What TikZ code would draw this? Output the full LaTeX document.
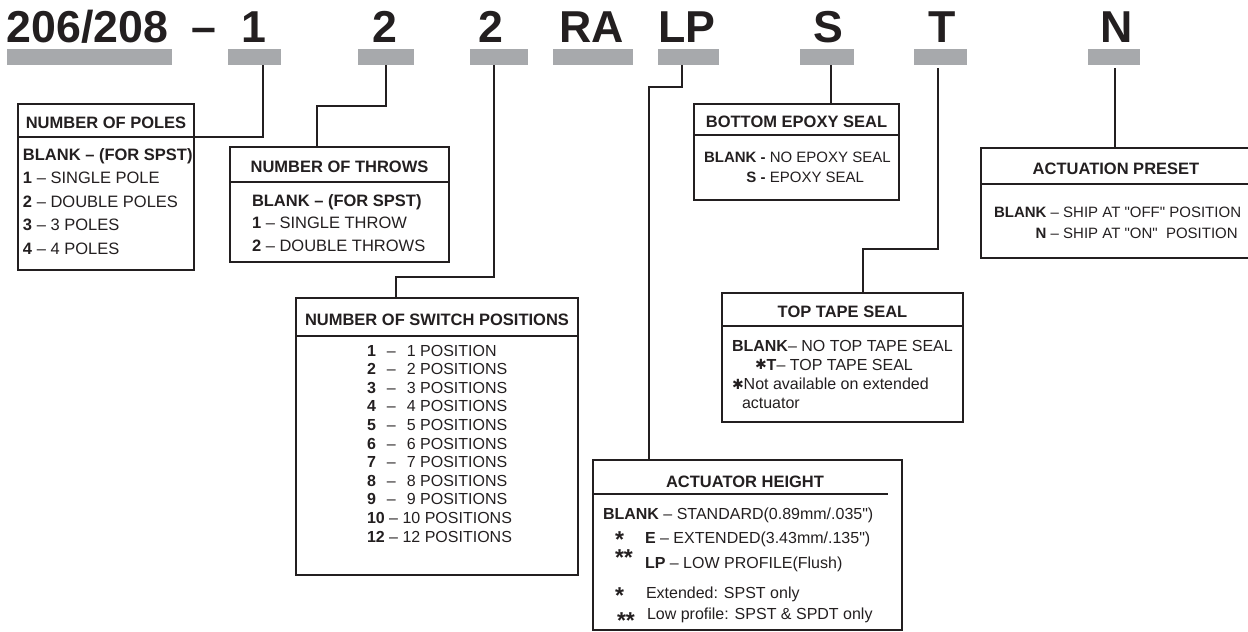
\documentclass[tikz,border=0pt]{standalone}
\usepackage{fontspec}
\setmainfont{Liberation Sans}
\newfontfamily\starfont{DejaVu Sans}
\usepackage{tikz}
\definecolor{barGrey}{HTML}{A7A9AC}
\definecolor{inkBlack}{HTML}{231F20}
\newcommand{\heavystar}{\raisebox{0.5pt}{\starfont\fontsize{14}{14}\selectfont ✱}}
\newcommand{\astmark}[2]{\raisebox{#1}[0pt][0pt]{\fontsize{23}{23}\selectfont\bfseries #2}}

\begin{document}
\begin{tikzpicture}[x=1pt,y=1pt]
              \tikzstyle{every node}+=[inner sep=0pt, outer sep=0pt, text=inkBlack]
              \tikzstyle{code}=[anchor=base, font=\fontsize{44.7}{44.7}\selectfont\bfseries]
              \tikzstyle{bar}=[fill=barGrey, anchor=north west, minimum height=16]
              \tikzstyle{head}=[draw=inkBlack, line width=1.8, anchor=north west, text height=16pt, text depth=0pt, font=\fontsize{16.5}{16.5}\selectfont\bfseries]
              \tikzstyle{frame}=[draw=inkBlack, line width=1.8, anchor=north west]
              \tikzstyle{body}=[anchor=base west]
              \tikzstyle{link}=[draw=inkBlack, line width=1.8]
              \useasboundingbox (0,0) rectangle (1248,-632);
              % part number
              \node[code] (tBase) at (87.5,-42) {206/208};
              \node[code] (tDash) at (203.5,-42) {–};
              \node[code] (tPoles) at (254,-42) {1};
              \node[code] (tThrows) at (385,-42) {2};
              \node[code] (tPos) at (491,-42) {2};
              \node[code] (tRA) at (592,-42) {RA};
              \node[code] (tLP) at (687,-42) {LP};
              \node[code] (tS) at (828,-42) {S};
              \node[code] (tT) at (942,-42) {T};
              \node[code] (tN) at (1117,-42) {N};
              \node[bar, minimum width=165] (bBase) at (7,-49) {};
              \node[bar, minimum width=53] (bPoles) at (228,-49) {};
              \node[bar, minimum width=56] (bThrows) at (358,-49) {};
              \node[bar, minimum width=58] (bPos) at (470,-49) {};
              \node[bar, minimum width=80] (bRA) at (553,-49) {};
              \node[bar, minimum width=61] (bLP) at (658,-49) {};
              \node[bar, minimum width=54] (bS) at (800,-49) {};
              \node[bar, minimum width=53] (bT) at (914,-49) {};
              \node[bar, minimum width=52] (bN) at (1088,-49) {};
              % number of poles
              \node[head, minimum width=176, minimum height=33] (polesH) at (18,-104) {NUMBER OF POLES};
              \node[frame, minimum width=176, minimum height=133] (polesB) at (polesH.south west) {};
              \node[body, font=\fontsize{16.5}{23.5}\selectfont] (polesT) at (23,-160) {\begin{tabular}[t]{@{}l@{}}
                \textbf{BLANK – (FOR SPST)}\\
                \textbf{1} – SINGLE POLE\\
                \textbf{2} – DOUBLE POLES\\
                \textbf{3} – 3 POLES\\
                \textbf{4} – 4 POLES
              \end{tabular}};
              % number of throws
              \node[head, minimum width=219, minimum height=35] (throwsH) at (230,-147) {NUMBER OF THROWS};
              \node[frame, minimum width=219, minimum height=80] (throwsB) at (throwsH.south west) {};
              \node[body, font=\fontsize{16.5}{22.5}\selectfont] (throwsT) at (252,-206) {\begin{tabular}[t]{@{}l@{}}
                \textbf{BLANK – (FOR SPST)}\\
                \textbf{1} – SINGLE THROW\\
                \textbf{2} – DOUBLE THROWS
              \end{tabular}};
              % number of switch positions
              \node[head, minimum width=282, minimum height=38] (switchH) at (296,-298) {NUMBER OF SWITCH POSITIONS};
              \node[frame, minimum width=282, minimum height=239] (switchB) at (switchH.south west) {};
              \node[body, font=\fontsize{16}{18.6}\selectfont] (switchT) at (367,-356) {\begin{tabular}[t]{@{}l@{}}
                \textbf{1}\hspace{11pt}–\hspace{11pt}1 POSITION\\
                \textbf{2}\hspace{11pt}–\hspace{11pt}2 POSITIONS\\
                \textbf{3}\hspace{11pt}–\hspace{11pt}3 POSITIONS\\
                \textbf{4}\hspace{11pt}–\hspace{11pt}4 POSITIONS\\
                \textbf{5}\hspace{11pt}–\hspace{11pt}5 POSITIONS\\
                \textbf{6}\hspace{11pt}–\hspace{11pt}6 POSITIONS\\
                \textbf{7}\hspace{11pt}–\hspace{11pt}7 POSITIONS\\
                \textbf{8}\hspace{11pt}–\hspace{11pt}8 POSITIONS\\
                \textbf{9}\hspace{11pt}–\hspace{11pt}9 POSITIONS\\
                \textbf{10} – 10 POSITIONS\\
                \textbf{12} – 12 POSITIONS
              \end{tabular}};
              % bottom epoxy seal
              \node[head, minimum width=205, minimum height=31] (epoxyH) at (694,-104) {BOTTOM EPOXY SEAL};
              \node[frame, minimum width=205, minimum height=65] (epoxyB) at (epoxyH.south west) {};
              \node[body, font=\fontsize{15}{20}\selectfont] (epoxyT) at (704,-162) {\begin{tabular}[t]{@{}r@{}l@{}}
                \textbf{BLANK -} & \ NO EPOXY SEAL\\
                \textbf{S -} & \ EPOXY SEAL
              \end{tabular}};
              % actuation preset
              \node[head, minimum width=270, minimum height=36] (presetH) at (981,-148) {ACTUATION PRESET};
              \node[frame, minimum width=270, minimum height=74] (presetB) at (presetH.south west) {};
              \node[body, font=\fontsize{15}{21}\selectfont] (presetT) at (994,-217) {\begin{tabular}[t]{@{}r@{}l@{}}
                \textbf{BLANK} & \ – SHIP AT \textquotedbl OFF\textquotedbl\ POSITION\\
                \textbf{N} & \ – SHIP AT \textquotedbl ON\textquotedbl\ \ POSITION
              \end{tabular}};
              % top tape seal
              \node[head, minimum width=241, minimum height=33] (tapeH) at (722,-293) {TOP TAPE SEAL};
              \node[frame, minimum width=241, minimum height=96] (tapeB) at (tapeH.south west) {};
              \node[body, font=\fontsize{16}{19.3}\selectfont] (tapeT) at (732,-351) {\begin{tabular}[t]{@{}l@{}}
                \textbf{BLANK}– NO TOP TAPE SEAL\\
                \hspace{23pt}\heavystar\textbf{T}– TOP TAPE SEAL\\
                \heavystar Not available on extended\\
                \hspace{10pt}actuator
              \end{tabular}};
              % actuator height
              \node[frame, minimum width=309, minimum height=170] (actF) at (593,-460) {};
              \node[anchor=base, font=\fontsize{16.5}{16.5}\selectfont\bfseries] (actH) at (745,-487) {ACTUATOR HEIGHT};
              \draw[link] (593,-494) -- (888,-494);
              \node[body, font=\fontsize{16}{21}\selectfont] (actT) at (603,-519) {\begin{tabular}[t]{@{}l@{}}
                \textbf{BLANK} – STANDARD(0.89mm/.035\textquotedbl)\\[3pt]
                \hspace{12pt}\makebox[30pt][l]{\astmark{-4pt}{*}}\textbf{E} – EXTENDED(3.43mm/.135\textquotedbl)\\[4pt]
                \hspace{12pt}\makebox[30pt][l]{\astmark{2.5pt}{**}}\textbf{LP} – LOW PROFILE(Flush)\\[9pt]
                \hspace{12pt}\makebox[31pt][l]{\astmark{-5.5pt}{*}}Extended: SPST only\\
                \hspace{14pt}\makebox[30pt][l]{\astmark{-9.5pt}{**}}Low profile: SPST \& SPDT only
              \end{tabular}};
              % connectors
              \draw[link] ([xshift=8.5]bPoles.south) |- (polesH.south east);
              \draw[link] (bThrows.south) -- ++(0,-41) -| ([xshift=-22.5]throwsH.north);
              \draw[link] ([xshift=-5]bPos.south) -- ++(0,-212) -| ([xshift=-41]switchH.north);
              \draw[link] ([xshift=-6.5]bLP.south) -- ++(0,-22) -| ([xshift=-98.5]actF.north);
              \draw[link] ([xshift=4]bS.south) -- ([xshift=34.5]epoxyH.north);
              \draw[link] ([xshift=-2.5,yshift=-3]bT.south) -- ++(0,-181) -| ([xshift=20.5]tapeH.north);
              \draw[link] ([xshift=1,yshift=-3]bN.south) -- ([xshift=-1]presetH.north);
            \end{tikzpicture}
\end{document}
